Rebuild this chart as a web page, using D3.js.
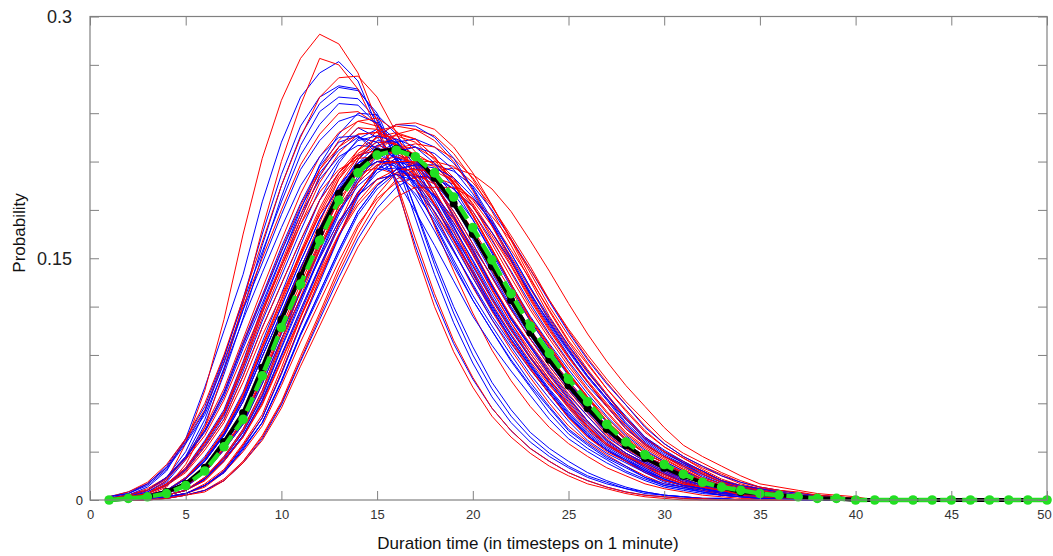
<!DOCTYPE html>
<html>
<head>
<meta charset="utf-8">
<script src="https://cdn.jsdelivr.net/npm/d3@7"></script>
<style>
  body { margin: 0; background: #fff; }
  text { font-family: "Liberation Sans", Arial, sans-serif; }
</style>
</head>
<body>
<div id="chart"></div>
<script>
// duration steps (minutes) and the y grid
var steps = [1,2,3,4,5,6,7,8,9,10,11,12,13,14,15,16,17,18,19,20,21,22,23,24,25,
             26,27,28,29,30,31,32,33,34,35,36,37,38,39,40,41,42,43,44,45,46,47,48,49,50];
var xTicks = [0,5,10,15,20,25,30,35,40,45,50];
var yTicks = [0,0.03,0.06,0.09,0.12,0.15,0.18,0.21,0.24,0.27,0.3];
var yTickLabels = {"0": "0", "0.15": "0.15", "0.3": "0.3"};

// every curve is flat on zero for steps 41..50
var tailZeros = [0,0,0,0,0,0,0,0,0,0];

// probabilities in thousandths, steps 1..40
var meanGreen = [0,1,2,4,9,18,33,50,77,107, 134,161,186,203,214,217,213,203,188,169,
                 149,128,108,91,75,61,47,36,28,22, 16,11,8,6,4,3,2,1,1,0];
var meanBlack = [0,1,2,5,10,20,36,54,82,112, 139,166,190,206,216,218,213,200,184,165,
                 145,124,104,87,71,57,44,34,26,20, 15,11,8,5,4,3,2,1,1,0];

var redCurves = [
  [1,2,4,10,19,35,53,82,113,142, 171,197,215,227,228,220,208,190,169,146, 125,106,88,72,57,43,34,27,20,14, 10,7,5,3,2,1,1,0,0,0],
  [0,1,2,4,9,19,35,53,81,112, 141,169,195,213,225,228,224,213,197,177, 156,134,113,96,79,64,49,38,29,23, 17,12,8,6,4,3,2,1,1,0],
  [0,0,1,3,6,13,25,40,62,90, 118,145,171,191,205,212,213,209,199,184, 166,146,125,106,89,74,60,46,35,27, 22,16,11,8,6,4,3,2,1,1],
  [0,0,0,1,3,6,13,24,40,61, 89,116,144,169,189,203,210,210,207,197, 182,164,145,124,105,88,73,59,46,35, 27,21,16,11,8,6,4,3,2,1],
  [0,0,0,1,3,6,12,24,39,60, 87,114,141,165,185,199,205,204,206,202, 193,179,161,142,122,103,86,71,58,45, 34,27,21,15,10,8,6,4,3,2],
  [0,1,3,6,13,24,40,61,89,116, 144,169,189,203,210,209,202,190,174,154, 134,114,97,81,66,52,40,31,24,18, 13,9,7,5,3,2,1,1,0,0],
  [0,0,1,2,4,10,19,35,53,82, 113,142,171,197,215,227,230,226,215,199, 179,158,136,114,96,80,65,50,38,30, 23,17,12,8,6,4,3,2,1,1],
  [1,3,7,14,27,45,69,100,131,161, 190,213,228,235,232,221,205,184,162,140, 118,99,82,66,51,39,31,24,17,12, 9,7,4,3,2,1,1,0,0,0],
  [0,0,1,3,6,12,24,39,59,86, 113,139,164,183,196,203,202,196,184,168, 149,130,111,94,78,64,51,39,30,24, 18,12,8,7,5,3,2,1,1,0],
  [0,1,2,4,8,17,31,47,72,100, 125,150,173,189,199,202,201,200,193,182, 166,148,128,110,93,77,63,50,38,30, 23,18,12,8,7,5,3,2,1,1],
  [2,4,10,20,37,56,86,120,150,180, 208,227,240,241,233,220,200,178,155,132, 112,93,76,60,46,36,28,21,15,10, 8,6,3,2,1,1,0,0,0,0],
  [0,0,1,2,4,8,17,30,46,71, 98,123,148,171,187,197,200,200,196,187, 173,155,137,118,99,84,69,56,43,33, 26,20,15,10,7,6,4,3,2,1],
  [0,1,4,12,35,68,112,165,212,248, 274,289,283,265,235,197,155,120,92,70, 52,39,29,21,15,10,7,4,2,1, 0,0,0,0,0,0,0,0,0,0],
  [0,1,3,8,22,45,80,122,168,210, 245,274,270,255,230,198,162,128,99,76, 57,43,32,24,17,12,8,5,3,2, 1,1,0,0,0,0,0,0,0,0],
  [2,5,11,22,38,60,90,125,160,195, 225,250,262,263,250,228,200,170,142,116, 93,74,58,45,35,27,20,15,10,7, 5,3,2,1,1,0,0,0,0,0],
  [0,1,3,6,13,26,42,64,94,122, 151,177,199,213,220,217,207,192,172,152, 131,110,93,77,62,48,37,29,22,16, 11,8,6,4,3,2,1,1,0,0],
  [0,0,1,2,4,9,18,34,51,79, 109,137,164,190,207,218,221,219,212,200, 183,162,141,120,102,85,69,55,42,33, 26,19,13,9,7,5,3,2,1,1],
  [1,2,4,9,17,31,48,73,102,127, 153,177,193,203,206,202,193,179,161,142, 122,103,86,71,58,45,34,27,21,15, 10,8,6,4,3,2,1,1,0,0],
  [0,1,2,4,9,18,33,50,77,107, 134,161,186,203,214,217,215,208,196,179, 159,138,118,100,83,68,54,41,32,25, 19,13,9,7,5,3,2,1,1,0],
  [0,0,0,1,3,5,12,23,37,57, 83,108,133,157,176,188,194,194,194,187, 176,161,143,124,106,90,75,61,49,37, 29,23,17,12,8,6,5,3,2,1],
  [1,3,6,14,26,43,66,97,126,155, 183,205,219,227,228,224,213,197,177,156, 134,113,96,79,64,49,38,29,23,17, 12,8,6,4,3,2,1,1,0,0],
  [1,2,4,10,19,36,54,83,116,145, 174,201,219,231,230,219,203,183,161,138, 117,98,81,66,51,39,30,24,17,12, 9,6,4,3,2,1,1,0,0,0],
  [0,1,3,6,14,26,43,66,96,125, 154,181,203,217,225,226,222,211,196,176, 155,133,112,95,78,63,49,37,29,23, 17,11,8,6,4,3,2,1,1,0],
  [0,1,2,4,10,19,35,54,82,114, 143,172,199,217,229,232,230,223,210,192, 170,148,126,107,89,73,58,44,34,27, 20,14,10,7,5,3,2,1,1,0],
  [0,0,1,3,6,14,27,44,68,99, 130,160,188,211,226,233,234,230,219,203, 183,161,138,117,98,81,66,51,39,30, 24,17,12,9,6,4,3,2,1,1],
  [0,1,3,6,13,26,42,65,95,124, 152,179,201,215,222,221,214,202,184,164, 142,122,103,85,70,56,42,33,26,20, 13,9,7,5,3,2,1,1,0,0],
  [0,1,2,4,9,18,32,49,75,105, 131,158,182,199,210,213,209,199,184,166, 146,125,106,89,74,60,46,35,27,22, 16,11,8,6,4,3,2,1,1,0],
  [0,0,1,2,4,9,18,34,51,79, 109,137,164,190,207,218,219,212,200,183, 162,141,120,102,85,69,55,42,33,26, 19,13,9,7,5,3,2,1,1,0],
  [1,2,4,9,18,33,50,77,107,134, 161,186,203,214,217,215,208,196,179,159, 138,118,100,83,68,54,41,32,25,19, 13,9,7,5,3,2,1,1,0,0],
  [0,0,1,3,6,12,24,39,60,87, 114,141,165,185,199,205,205,204,198,186, 170,151,131,112,95,79,65,51,39,30, 24,18,12,9,7,5,3,2,1,1],
  [1,2,4,10,20,36,55,85,118,147, 177,205,223,235,237,229,216,197,175,152, 130,110,91,75,59,45,35,28,21,14, 10,8,6,3,2,1,1,0,0,0],
  [0,0,1,3,6,14,26,43,66,97, 126,155,183,205,219,227,224,213,197,177, 156,134,113,96,79,64,49,38,29,23, 17,12,8,6,4,3,2,1,1,0],
  [0,1,2,4,9,17,32,49,75,104, 130,156,180,197,208,210,210,207,197,182, 164,145,124,105,88,73,59,46,35,27, 21,16,11,8,6,4,3,2,1,1],
  [1,3,6,13,25,40,62,90,118,145, 171,191,205,212,213,209,199,184,166,146, 125,106,89,74,60,46,35,27,22,16, 11,8,6,4,3,2,1,1,0,0]
];

var blueCurves = [
  [1,2,4,10,20,37,56,86,120,150, 180,208,227,240,239,227,211,189,167,143, 121,102,84,68,53,40,31,25,18,12, 9,7,4,3,2,1,1,0,0,0],
  [0,1,3,6,14,27,44,67,98,128, 158,186,209,224,230,223,210,192,170,148, 126,107,89,73,58,44,34,27,20,14, 10,7,5,3,2,1,1,0,0,0],
  [0,1,2,4,9,19,34,52,80,111, 139,167,193,211,223,222,211,196,176,155, 133,112,95,78,63,49,37,29,23,17, 11,8,6,4,3,2,1,1,0,0],
  [0,0,1,3,6,13,25,40,62,90, 118,145,171,191,205,212,209,199,184,166, 146,125,106,89,74,60,46,35,27,22, 16,11,8,6,4,3,2,1,1,0],
  [0,0,1,2,4,9,17,31,48,73, 102,127,153,177,193,203,206,202,193,179, 161,142,122,103,86,71,58,45,34,27, 21,15,10,8,6,4,3,2,1,1],
  [2,5,10,21,38,58,89,123,154,185, 214,233,246,245,233,216,194,171,147,124, 105,86,70,54,41,32,25,18,13,9, 7,5,3,2,1,1,0,0,0,0],
  [1,3,8,18,38,70,105,140,185,222, 250,265,272,260,232,195,158,125,97,75, 57,43,32,24,17,12,8,5,3,2, 1,0,0,0,0,0,0,0,0,0],
  [1,2,6,14,30,55,88,125,165,202, 232,250,257,255,238,210,175,140,110,85, 64,48,36,27,20,14,10,7,4,3, 2,1,1,0,0,0,0,0,0,0],
  [1,2,5,12,27,50,82,118,158,195, 226,246,256,254,240,214,180,146,116,90, 69,52,39,29,21,15,11,7,5,3, 2,1,1,0,0,0,0,0,0,0],
  [1,2,5,11,25,47,78,113,152,188, 220,241,250,249,236,212,181,149,120,95, 73,56,42,32,24,17,12,8,5,3, 2,1,1,0,0,0,0,0,0,0],
  [1,3,6,13,26,42,64,94,122,151, 177,199,213,220,219,212,200,183,162,141, 120,102,85,69,55,42,33,26,19,13, 9,7,5,3,2,1,1,0,0,0],
  [0,0,0,1,3,6,12,23,38,59, 86,112,138,162,181,194,201,200,193,182, 166,148,128,110,93,77,63,50,38,30, 23,18,12,8,7,5,3,2,1,1],
  [0,1,2,4,9,17,32,49,75,104, 130,156,180,197,208,202,190,174,154,134, 114,97,81,66,52,40,31,24,18,13, 9,7,5,3,2,1,1,0,0,0],
  [1,2,4,10,19,36,54,83,116,145, 174,201,219,231,225,212,193,172,149,127, 108,90,73,58,44,35,27,21,14,10, 8,5,3,2,1,1,0,0,0,0],
  [0,1,3,6,13,24,40,61,89,116, 144,169,189,203,210,210,207,197,182,164, 145,124,105,88,73,59,46,35,27,21, 16,11,8,6,4,3,2,1,1,0],
  [0,0,1,3,6,13,26,42,65,95, 124,152,179,201,215,222,224,219,209,194, 174,153,132,111,94,77,63,48,37,29, 23,16,11,8,6,4,3,2,1,1],
  [0,0,1,2,4,9,17,32,48,74, 103,129,155,179,195,205,208,208,204,195, 180,162,143,123,104,87,72,59,45,35, 27,21,15,11,8,6,4,3,2,1],
  [2,4,10,20,36,55,85,118,147,177, 205,223,235,239,234,223,207,186,164,141, 119,100,83,67,52,40,31,24,18,12, 9,7,4,3,2,1,1,0,0,0],
  [0,1,2,4,8,17,31,47,72,100, 125,150,173,189,199,202,198,189,175,157, 139,119,100,85,70,57,44,33,26,20, 15,10,7,6,4,3,2,1,1,0],
  [1,3,6,14,27,43,67,98,127,157, 184,207,222,226,215,199,179,158,136,114, 96,80,65,50,38,30,23,17,12,8, 6,4,3,2,1,1,0,0,0,0],
  [0,0,1,3,6,14,27,44,68,99, 130,160,188,211,226,233,232,225,212,193, 172,149,127,108,90,73,58,44,35,27, 21,14,10,8,5,3,2,1,1,0],
  [1,2,4,9,18,33,50,77,107,134, 161,186,203,214,217,213,203,188,169,149, 128,108,91,75,61,47,36,28,22,16, 11,8,6,4,3,2,1,1,0,0],
  [0,1,2,4,9,19,34,52,79,110, 138,166,192,209,220,224,219,209,194,174, 153,132,111,94,77,63,48,37,29,23, 16,11,8,6,4,3,2,1,1,0],
  [0,1,3,6,13,25,41,63,92,120, 148,174,195,209,216,215,208,196,179,159, 138,118,100,83,68,54,41,32,25,19, 13,9,7,5,3,2,1,1,0,0],
  [0,0,1,3,6,13,24,40,61,89, 116,144,169,189,203,210,209,202,190,174, 154,134,114,97,81,66,52,40,31,24, 18,13,9,7,5,3,2,1,1,0],
  [0,1,3,6,13,25,41,63,92,120, 148,174,195,209,215,208,196,179,159,138, 118,100,83,68,54,41,32,25,19,13, 9,7,5,3,2,1,1,0,0,0],
  [1,2,4,9,19,34,52,80,111,139, 167,193,211,223,226,222,211,196,176,155, 133,112,95,78,63,49,37,29,23,17, 11,8,6,4,3,2,1,1,0,0],
  [0,1,2,4,9,17,32,48,74,103, 129,155,179,195,205,206,200,188,172,153, 132,113,96,80,65,52,39,31,24,18, 12,9,7,5,3,2,1,1,0,0],
  [0,0,1,2,4,9,18,33,51,78, 108,135,163,188,205,216,219,215,205,190, 171,150,129,109,92,76,62,47,36,28, 22,16,11,8,6,4,3,2,1,1],
  [1,3,6,14,26,43,66,96,125,154, 181,203,217,225,222,211,196,176,155,133, 112,95,78,63,49,37,29,23,17,11, 8,6,4,3,2,1,1,0,0,0],
  [0,1,3,6,13,24,40,61,89,116, 144,169,189,203,210,207,197,182,164,145, 124,105,88,73,59,46,35,27,21,16, 11,8,6,4,3,2,1,1,0,0],
  [0,0,1,3,6,13,26,42,64,94, 122,151,177,199,213,219,212,200,183,162, 141,120,102,85,69,55,42,33,26,19, 13,9,7,5,3,2,1,1,0,0],
  [2,4,9,19,35,53,81,112,141,169, 195,213,225,226,218,206,188,167,145,124, 105,87,71,57,43,34,26,20,14,9, 7,5,3,2,1,1,0,0,0,0],
  [0,0,1,2,4,9,17,32,48,74, 103,129,155,179,195,205,208,206,200,188, 172,153,132,113,96,80,65,52,39,31, 24,18,12,9,7,5,3,2,1,1]
];

var svgWidth = 1053, svgHeight = 556;
var margin = { top: 16.5, right: 6, bottom: 56, left: 90 };
var width = svgWidth - margin.left - margin.right;
var height = svgHeight - margin.top - margin.bottom;

var root = d3.select("#chart").append("svg")
    .attr("width", svgWidth)
    .attr("height", svgHeight)
    .style("background", "#fff");

var svg = root.append("g")
    .attr("transform", "translate(" + margin.left + "," + margin.top + ")");

var x = d3.scaleLinear().domain([0, 50]).range([0, width]);
var y = d3.scaleLinear().domain([0, 0.3]).range([height, 0]);

var line = d3.line()
    .x((d, i) => x(steps[i]))
    .y(d => y(d / 1000));

// thin runs, blue and red interleaved so neither colour sits fully on top
var plot = svg.append("g");
for (var i = 0; i < Math.max(redCurves.length, blueCurves.length); i++) {
  if (blueCurves[i]) {
    plot.append("path")
      .datum(blueCurves[i].concat(tailZeros))
      .attr("fill", "none")
      .attr("stroke", "#0000ff")
      .attr("stroke-width", 1)
      .attr("d", line);
  }
  if (redCurves[i]) {
    plot.append("path")
      .datum(redCurves[i].concat(tailZeros))
      .attr("fill", "none")
      .attr("stroke", "#ff0000")
      .attr("stroke-width", 1)
      .attr("d", line);
  }
}

// black mean line with markers
var black = meanBlack.concat(tailZeros);
svg.append("path")
    .datum(black)
    .attr("fill", "none")
    .attr("stroke", "#000")
    .attr("stroke-width", 4)
    .attr("d", line);
svg.append("g").selectAll("circle")
    .data(black)
    .join("circle")
    .attr("cx", (d, i) => x(steps[i]))
    .attr("cy", d => y(d / 1000))
    .attr("r", 4)
    .attr("fill", "#000");

// green dashed line with markers
var green = meanGreen.concat(tailZeros);
svg.append("path")
    .datum(green)
    .attr("fill", "none")
    .attr("stroke", "#22e022")
    .attr("stroke-width", 4.5)
    .attr("stroke-dasharray", "15,7")
    .attr("d", line);
svg.append("g").selectAll("circle")
    .data(green)
    .join("circle")
    .attr("cx", (d, i) => x(steps[i]))
    .attr("cy", d => y(d / 1000))
    .attr("r", 4.8)
    .attr("fill", "#22e022");

// axes: ticks point inward on all four sides
var axisColor = "#808080";

var gx = svg.append("g")
    .attr("transform", "translate(0," + height + ")")
    .call(d3.axisBottom(x).tickValues(xTicks).tickSize(-9).tickPadding(10).tickFormat(d3.format("d")));
gx.select(".domain").remove();
gx.attr("color", axisColor);
gx.selectAll("text").attr("fill", "#333").style("font-size", "13px");
gx.selectAll("text").filter(d => d === 50).attr("dx", -3);

var gy = svg.append("g")
    .call(d3.axisLeft(y).tickValues(yTicks).tickSize(-9).tickPadding(18)
      .tickFormat(d => yTickLabels[String(+d.toFixed(2))] || ""));
gy.select(".domain").remove();
gy.attr("color", axisColor);
gy.selectAll("text").attr("fill", "#222").style("font-size", "18px");
gy.selectAll("text").filter(d => d === 0).attr("x", -7).style("font-size", "13px");

var gt = svg.append("g")
    .call(d3.axisTop(x).tickValues(xTicks).tickSize(-9).tickFormat(""));
gt.select(".domain").remove();
gt.attr("color", axisColor);

var gr = svg.append("g")
    .attr("transform", "translate(" + width + ",0)")
    .call(d3.axisRight(y).tickValues(yTicks).tickSize(-9).tickFormat(""));
gr.select(".domain").remove();
gr.attr("color", axisColor);

svg.append("rect")
    .attr("width", width)
    .attr("height", height)
    .attr("fill", "none")
    .attr("stroke", axisColor)
    .attr("stroke-width", 1.2);

root.append("text")
    .attr("transform", "translate(25,233) rotate(-90)")
    .attr("text-anchor", "middle")
    .attr("fill", "#111")
    .style("font-size", "17px")
    .text("Probability");

root.append("text")
    .attr("x", 528)
    .attr("y", 549)
    .attr("text-anchor", "middle")
    .attr("fill", "#111")
    .style("font-size", "17px")
    .text("Duration time (in timesteps on 1 minute)");
</script>
</body>
</html>
